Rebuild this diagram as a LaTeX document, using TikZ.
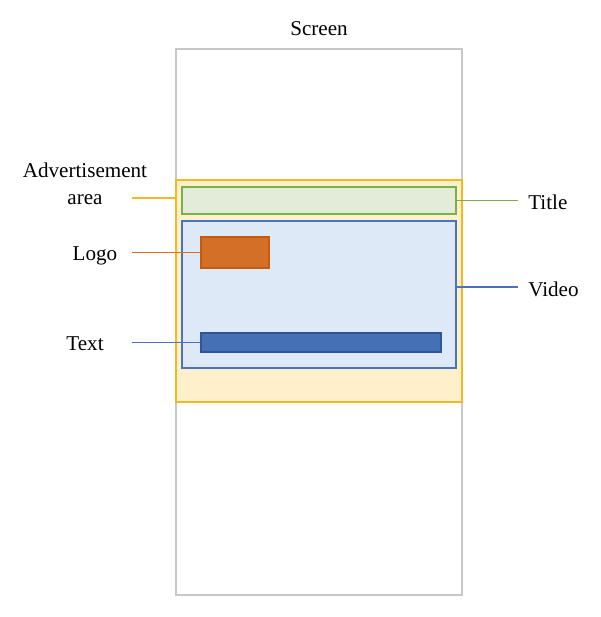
\documentclass[tikz,border=0pt]{standalone}
\usepackage{fontspec}
\setmainfont{Liberation Serif}
\usetikzlibrary{fit}
\definecolor{scrgray}{HTML}{C8C8C8}
\definecolor{adline}{HTML}{F4B823}
\definecolor{adfill}{HTML}{FDF0CB}
\definecolor{tline}{HTML}{78B04A}
\definecolor{tfill}{HTML}{E2ECD9}
\definecolor{vline}{HTML}{4A72C0}
\definecolor{vfill}{HTML}{DDE9F6}
\definecolor{logofill}{HTML}{D46F27}
\definecolor{logoline}{HTML}{C55A11}
\definecolor{barfill}{HTML}{4570B6}
\definecolor{barline}{HTML}{2F5597}

\begin{document}
\begin{tikzpicture}[x=0.025cm, y=-0.025cm,
    box/.style={rectangle, inner sep=0pt, line width=0.9pt},
    pin/.style={line width=0.8pt},
    lbl/.style={font=\fontsize{15}{18}\selectfont, inner sep=0pt}]
  \useasboundingbox (0, 0) rectangle (600, 617);
  \node[box, draw=scrgray, fit={(176, 49) (462, 595)}] (screen) {};
  \node[box, draw=adline, fill=adfill, fit={(176, 180) (462, 402)}] (adarea) {};
  \node[box, draw=tline, fill=tfill, fit={(182, 187) (456, 214)}] (title) {};
  \node[box, draw=vline, fill=vfill, fit={(182, 221) (456, 368)}] (video) {};
  \node[box, draw=logoline, fill=logofill, fit={(201, 237) (269, 268)}] (logo) {};
  \node[box, draw=barline, fill=barfill, fit={(201, 333) (441, 352)}] (textbar) {};
  \node[lbl] (screenlbl) at (319, 29) {Screen};
  \node[lbl, align=center] (adlbl) at (85, 184) {Advertisement\\[1.5pt]area};
  \node[lbl] (logolbl) at (95, 256) {Logo};
  \node[lbl] (textlbl) at (85, 344) {Text};
  \node[lbl, anchor=west] (titlelbl) at (528, 202) {Title};
  \node[lbl, anchor=west] (videolbl) at (528, 289) {Video};
  \coordinate (lft) at (132, 0);
  \coordinate (rgt) at (518, 0);
  \coordinate (vpin) at (456, 287);
  \draw[pin, adline] (adarea.west |- 0, 198) -- (lft |- 0, 198);
  \draw[pin, logofill] (logo.west) -- (logo.west -| lft);
  \draw[pin, vline] (textbar.west) -- (textbar.west -| lft);
  \draw[pin, tline] (title.east) -- (title.east -| rgt);
  \draw[pin, vline] (vpin) -- (vpin -| rgt);
\end{tikzpicture}
\end{document}
